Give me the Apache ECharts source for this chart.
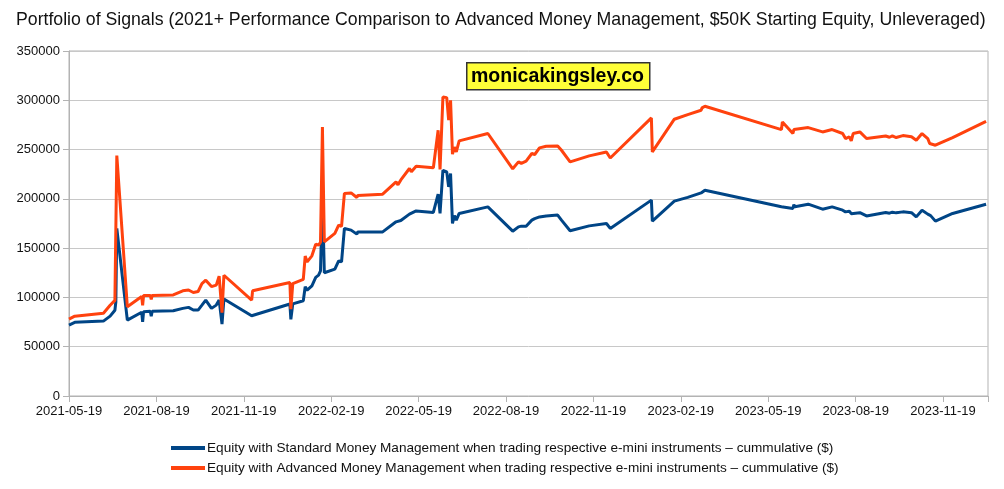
<!DOCTYPE html>
<html>
<head>
<meta charset="utf-8">
<script src="https://cdn.jsdelivr.net/npm/echarts@6/dist/echarts.min.js"></script>
<style>
html,body{margin:0;padding:0;background:#fff;}
#chart{width:1004px;height:489px;}
</style>
</head>
<body>
<div id="chart"></div>
<script>
// Days since 2021-05-19 for each observation
const dayOffsets = [0,6,36,43,48,49,50,61,76,77,78,85,86,87,109,119,125,130,135,139,143,149,154,157,160,162,191,192,231,232,234,235,245,247,249,254,258,261,263,265,267,278,280,282,285,288,295,301,302,328,342,344,347,356,358,363,381,386,388,391,395,397,399,401,403,405,408,438,464,470,471,473,478,484,487,492,499,511,515,524,544,546,562,566,609,610,633,647,661,662,665,745,746,757,758,759,773,788,798,809,812,816,818,820,827,834,854,858,861,865,872,881,886,892,898,900,901,906,924,959];

const standardEquity = [72000,74700,76000,81000,87000,95600,170000,77000,85000,75300,85500,86000,81000,86000,86500,88900,89900,87200,87200,92200,97300,88900,92200,97300,73000,98500,81400,82000,93300,77700,93500,92800,96600,110800,107400,111800,120300,122600,127000,205000,125000,128700,127500,137100,136000,170000,168300,164200,166500,166500,176700,176000,178000,184500,185000,187800,186200,204700,185200,229000,227400,212100,225700,175000,183000,178500,185200,191900,167200,171600,173000,172300,172300,178400,180000,181700,182700,183500,178400,167600,172600,170800,175000,170000,198700,177400,197700,201500,206000,206500,208800,192000,191800,190200,194200,192000,194600,189500,191900,188500,186800,187500,185000,187000,186000,182700,186200,185500,186500,185800,186800,186000,181700,188500,184500,183500,183000,177400,185200,194600];

const advancedEquity = [78000,81000,84000,92000,97000,99000,244000,90500,101000,92000,102000,102000,98000,102000,102500,106700,107500,105000,106000,114000,117500,111000,112500,121600,84500,122500,97300,106700,115200,88000,114000,114500,118300,142000,136000,142200,154000,153000,156000,273000,156400,165000,163500,173300,172000,205500,206000,201400,203500,204700,217200,214200,219200,230800,227400,233000,231500,269600,229800,303400,302700,279800,300000,245300,252500,247600,258800,266300,230500,237500,239200,236000,238200,246000,245000,251700,253400,253700,249300,237500,243600,241600,247600,241500,282100,247600,280800,285500,289900,292300,294000,270300,278000,266300,270300,269500,272300,267900,270300,266300,261200,263000,258800,266300,267900,261200,263800,262500,263800,262200,264200,263000,259500,266300,261200,256100,257500,254400,262200,278700];

const xTickLabels = ['2021-05-19','2021-08-19','2021-11-19','2022-02-19','2022-05-19','2022-08-19','2022-11-19','2023-02-19','2023-05-19','2023-08-19','2023-11-19'];
const xTickStep = 91.4;   // average days per 3-month tick
const xMaxDay = 961;

const seriesNames = [
  'Equity with Standard Money Management when trading respective e-mini instruments – cummulative ($)',
  'Equity with Advanced Money Management when trading respective e-mini instruments – cummulative ($)'
];
const titleText = 'Portfolio of Signals (2021+ Performance Comparison to Advanced Money Management, $50K Starting Equity, Unleveraged)';
const watermark = 'monicakingsley.co';

const pairs = vals => dayOffsets.map((d, i) => [d, vals[i]]);

const chart = echarts.init(document.getElementById('chart'), null, {renderer: 'canvas'});
const FONT = 'Liberation Sans, Arial, sans-serif';
chart.setOption({
  animation: false,
  backgroundColor: '#ffffff',
  textStyle: {fontFamily: FONT},
  title: {
    text: titleText,
    left: 11, top: 6,
    textStyle: {fontFamily: FONT, fontSize: 17.7, fontWeight: 'normal', color: '#111'}
  },
  grid: {
    left: 69, right: 16, top: 51, bottom: 93,
    show: true, borderColor: '#b3b3b3', borderWidth: 1
  },
  legend: {
    orient: 'vertical',
    left: 166, top: 436,
    itemWidth: 34, itemHeight: 4, itemGap: 6,
    icon: 'rect',
    textStyle: {fontFamily: FONT, fontSize: 13.6, color: '#111', padding: [0,0,0,-3]},
    data: seriesNames
  },
  xAxis: {
    type: 'value',
    min: 0, max: xMaxDay, interval: xTickStep,
    splitLine: {show: false},
    axisLine: {show: true, lineStyle: {color: '#b3b3b3', width: 1}},
    axisTick: {show: true, length: 6, lineStyle: {color: '#b3b3b3'}},
    axisLabel: {
      margin: 9, fontSize: 13, color: '#111', fontFamily: FONT,
      formatter: v => {
        const i = Math.round(v / xTickStep);
        if (Math.abs(v - i * xTickStep) < 0.5 && i < xTickLabels.length) return xTickLabels[i];
        return '';
      }
    }
  },
  yAxis: {
    type: 'value',
    min: 0, max: 350000, interval: 50000,
    splitLine: {show: true, lineStyle: {color: '#c8c8c8', width: 1}},
    axisLine: {show: true, lineStyle: {color: '#b3b3b3', width: 1}},
    axisTick: {show: true, length: 6, lineStyle: {color: '#b3b3b3'}},
    axisLabel: {margin: 9, fontSize: 13, color: '#111', fontFamily: FONT, formatter: v => String(v)}
  },
  graphic: [
    {
      type: 'rect', left: 466, top: 62, z: 100,
      shape: {width: 183, height: 27},
      style: {fill: '#ffff38', stroke: '#333', lineWidth: 1.5}
    },
    {
      type: 'text', left: 471, top: 67, z: 101,
      style: {text: watermark, fill: '#000', font: 'bold 19.5px Liberation Sans, Arial, sans-serif'}
    }
  ],
  series: [
    {
      name: seriesNames[0], type: 'line', showSymbol: false, symbol: 'none',
      data: pairs(standardEquity),
      lineStyle: {color: '#004586', width: 3}, itemStyle: {color: '#004586'}
    },
    {
      name: seriesNames[1], type: 'line', showSymbol: false, symbol: 'none',
      data: pairs(advancedEquity),
      lineStyle: {color: '#ff420e', width: 3}, itemStyle: {color: '#ff420e'}
    }
  ]
});
</script>
</body>
</html>
